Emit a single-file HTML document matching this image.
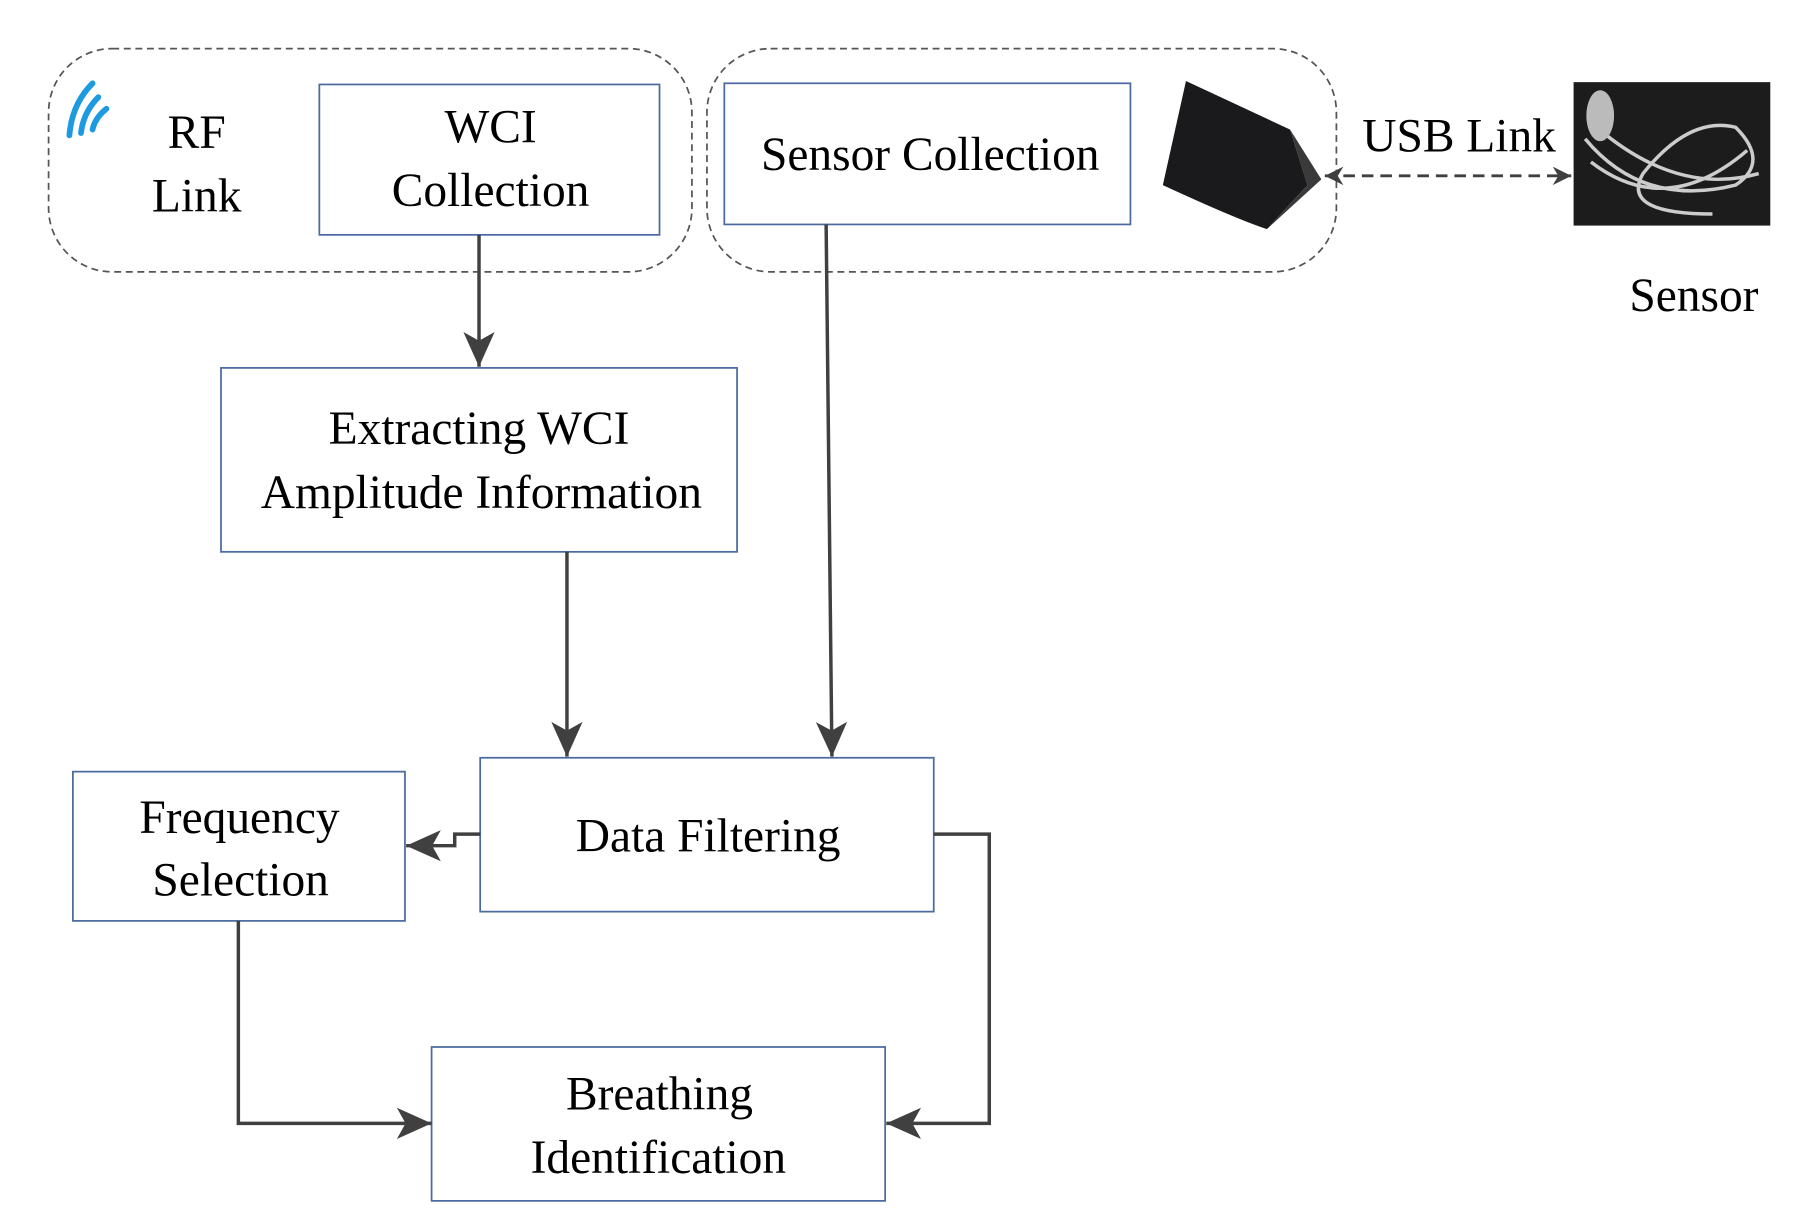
<!DOCTYPE html>
<html><head><meta charset="utf-8"><style>html,body{margin:0;padding:0;background:#fff}svg{display:block}</style></head><body>
<svg width="1805" height="1224" viewBox="0 0 1560 1058" preserveAspectRatio="none" xmlns="http://www.w3.org/2000/svg" font-family="'Liberation Serif', serif" font-size="41" fill="#000">
<defs>
<marker id="ah" markerWidth="32" markerHeight="30" refX="10" refY="5" orient="auto" markerUnits="userSpaceOnUse" viewBox="0 0 10 10"><path d="M0,0.5 L10,5 L0,9.5 L2.5,5 Z" fill="#404040"/></marker>
<marker id="as" markerWidth="22" markerHeight="16" refX="10" refY="5" orient="auto-start-reverse" markerUnits="userSpaceOnUse" viewBox="0 0 10 10"><path d="M0,0 L10,5 L0,10 L3,5 Z" fill="#404040"/></marker>
</defs>
<g fill="none" stroke="#555" stroke-width="1.5" stroke-dasharray="6,4">
<rect x="42" y="42" width="556" height="193" rx="55"/>
<rect x="611" y="42" width="544" height="193" rx="55"/>
</g>
<g fill="#fff" stroke="#4a6aa0" stroke-width="1.5">
<rect x="276" y="73" width="294" height="130"/>
<rect x="626" y="72" width="351" height="122"/>
<rect x="191" y="318" width="446" height="159"/>
<rect x="415" y="655" width="392" height="133"/>
<rect x="63" y="667" width="287" height="129"/>
<rect x="373" y="905" width="392" height="133"/>
</g>
<g fill="none" stroke="#1e9be0" stroke-width="5" stroke-linecap="round">
<path d="M60,117 Q62,90 80,72"/><path d="M70,115 Q72,97 85,84"/><path d="M80,112 Q82,102 92,94"/>
</g>
<path d="M1025,70 L1115,112 L1130,160 L1095,198 Q1070,190 1005,160 Z" fill="#1a1a1c"/>
<path d="M1115,112 L1142,155 L1095,198 L1130,160 Z" fill="#3a3a3a"/>
<rect x="1360" y="71" width="170" height="124" fill="#1c1c1c"/>
<g fill="none" stroke="#ccc" stroke-width="3">
<path d="M1370,120 Q1420,180 1500,160 Q1530,140 1500,110 Q1460,100 1420,150 Q1400,185 1480,185"/>
<path d="M1380,110 Q1450,170 1520,150"/><path d="M1375,140 Q1440,190 1510,130"/>
</g>
<ellipse cx="1383" cy="100" rx="12" ry="22" fill="#bbb"/>
<g stroke="#404040" stroke-width="3" fill="none">
<line x1="414" y1="203" x2="414" y2="317" marker-end="url(#ah)"/>
<line x1="490" y1="477" x2="490" y2="654" marker-end="url(#ah)"/>
<line x1="714" y1="194" x2="719" y2="654" marker-end="url(#ah)"/>
<polyline points="415,721 393,721 393,731 351,731" marker-end="url(#ah)"/>
<polyline points="807,721 855,721 855,971 766,971" marker-end="url(#ah)"/>
<polyline points="206,796 206,971 373,971" marker-end="url(#ah)"/>
<line x1="1145" y1="152" x2="1358" y2="152" stroke-dasharray="10,6" stroke-width="2.5" marker-start="url(#as)" marker-end="url(#as)"/>
</g>
<g text-anchor="middle">
<text x="170" y="128">RF</text><text x="170" y="183">Link</text>
<text x="424" y="123">WCI</text><text x="424" y="178">Collection</text>
<text x="804" y="147">Sensor Collection</text>
<text x="1261" y="131">USB Link</text>
<text x="1464" y="269">Sensor</text>
<text x="414" y="384">Extracting WCI</text><text x="416" y="439">Amplitude Information</text>
<text x="612" y="736">Data Filtering</text>
<text x="207" y="720">Frequency</text><text x="208" y="774">Selection</text>
<text x="570" y="959">Breathing</text><text x="569" y="1014">Identification</text>
</g>
</svg>
</body></html>
